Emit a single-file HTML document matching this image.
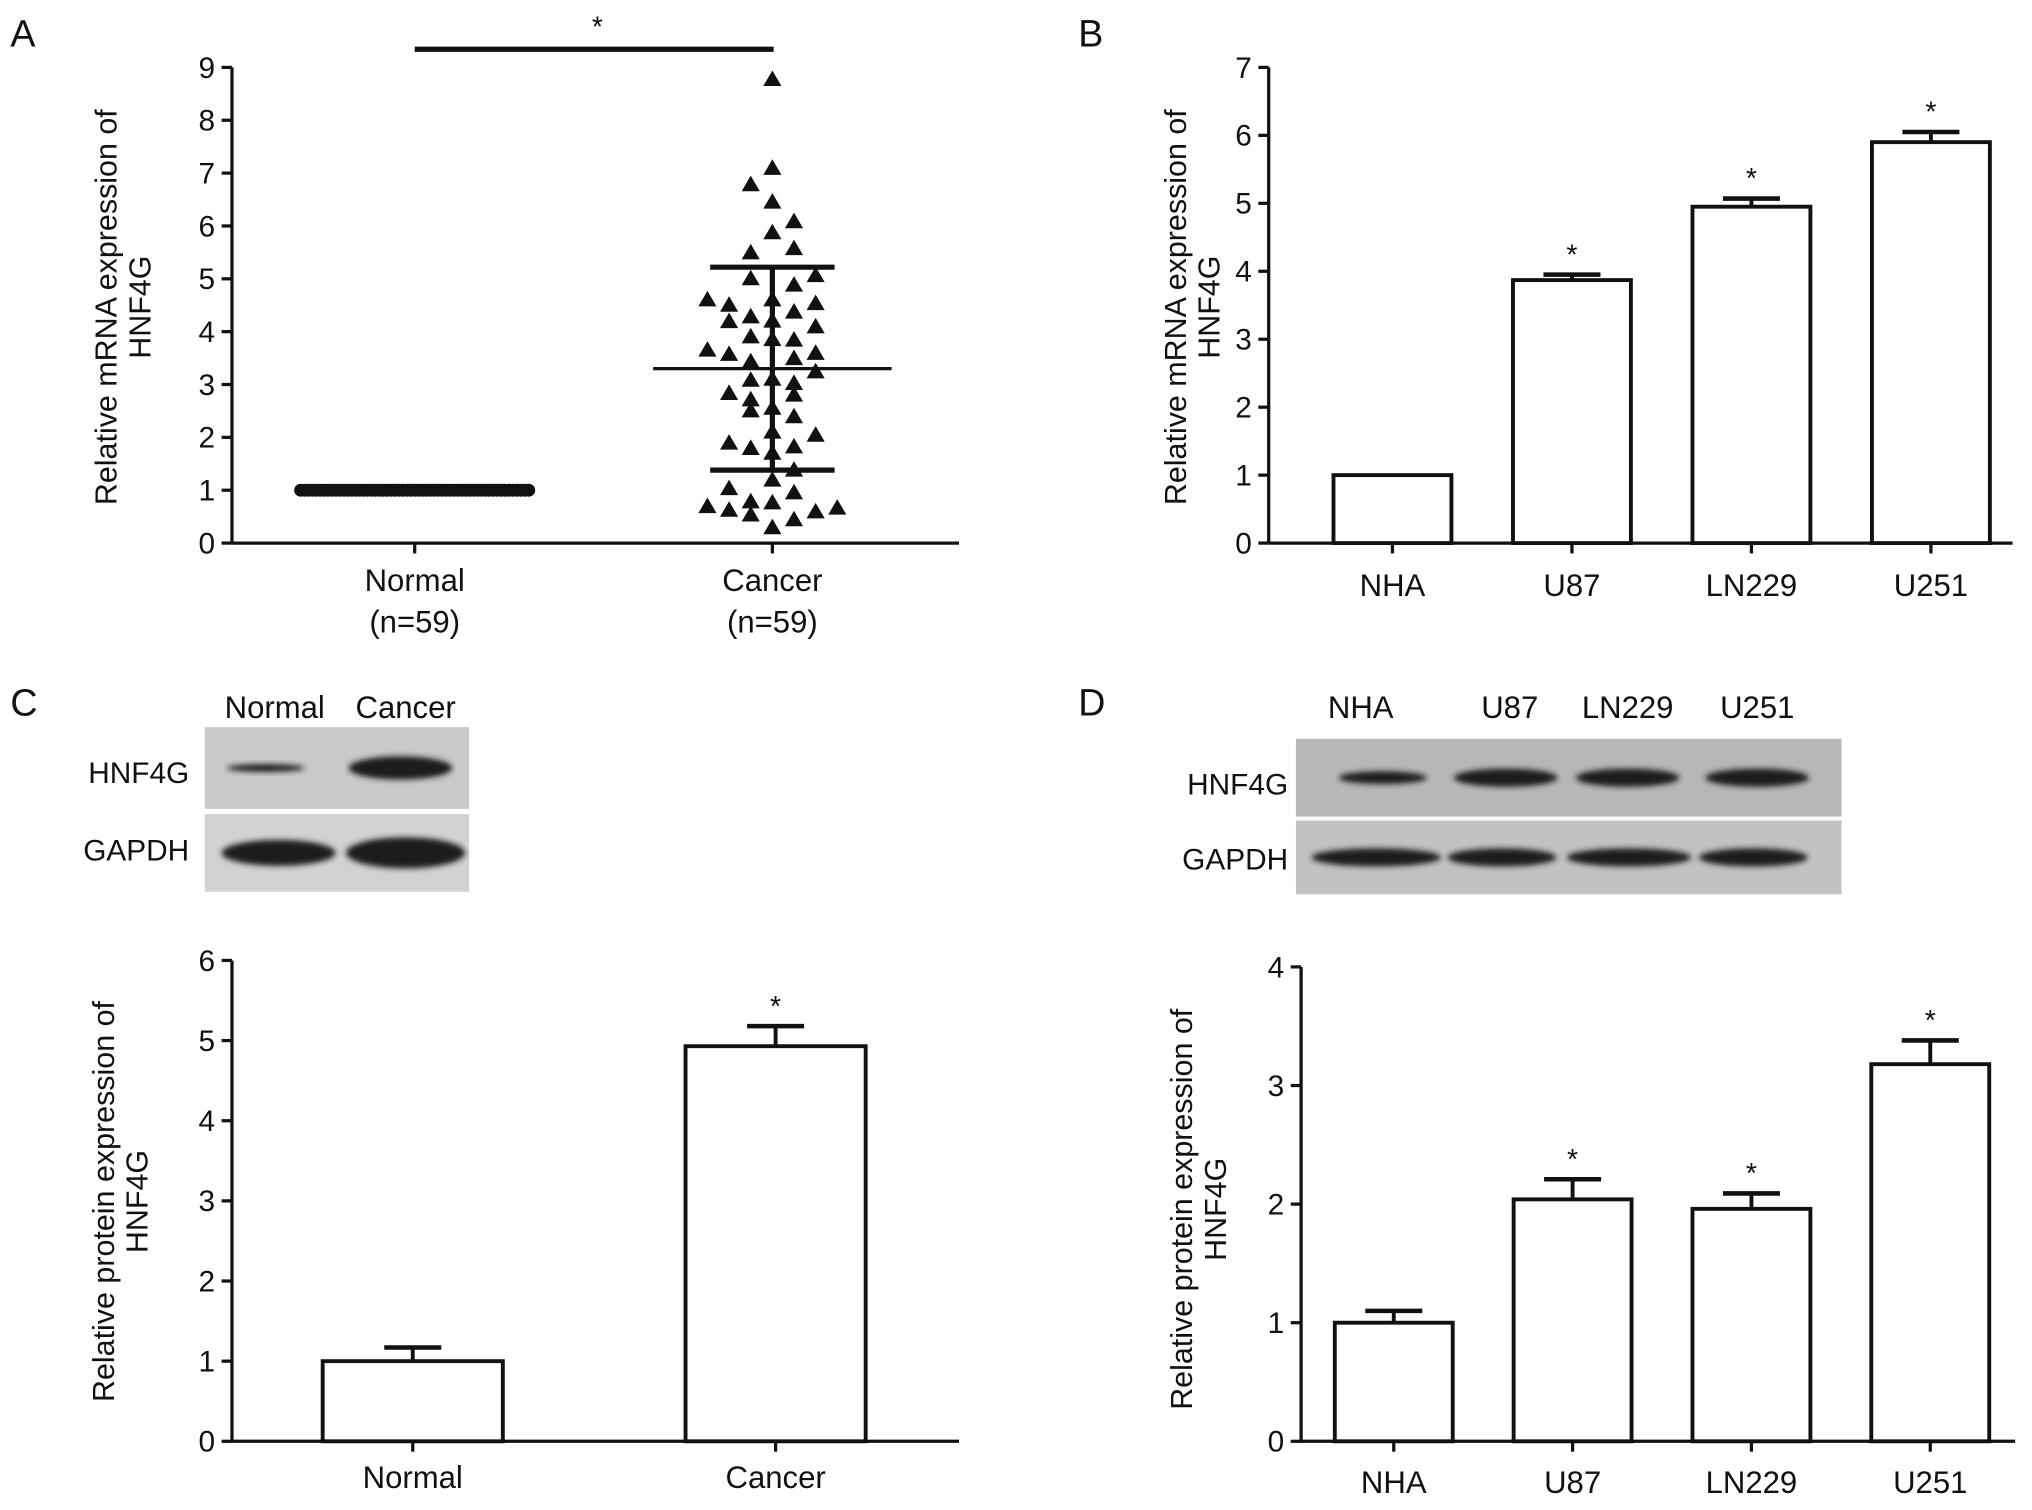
<!DOCTYPE html>
<html><head><meta charset="utf-8"><style>
html,body{margin:0;padding:0;background:#fff;}
svg{display:block;font-family:"Liberation Sans",sans-serif;}
</style></head><body>
<svg id="fig" width="2032" height="1510" viewBox="0 0 1568 1165" preserveAspectRatio="none" xmlns="http://www.w3.org/2000/svg">
<defs>
<filter id="blur" x="-20%" y="-50%" width="140%" height="200%"><feGaussianBlur stdDeviation="2.2"/></filter>
</defs>
<g id="root"></g>
</svg>
<script>
// Panel A data
const aCategories = ["Normal\n(n=59)", "Cancer\n(n=59)"];
const aTicks = [0,1,2,3,4,5,6,7,8,9];
const aNormalValue = 1.0;
const aNormalCount = 59;
const aCancerValues = [8.77,7.09,6.78,6.45,6.08,5.87,5.49,5.57,5.0,5.06,4.88,4.6,4.5,4.53,4.19,4.28,4.37,4.09,3.9,3.84,3.65,3.57,3.43,3.49,3.59,3.24,3.08,3.02,2.83,2.8,2.71,2.5,2.39,2.04,1.89,1.79,1.82,1.38,1.19,1.03,0.95,0.69,0.62,0.78,0.53,0.76,0.59,0.66,0.44,0.29,4.6,4.2,3.85,3.1,2.55,2.1,1.7];
const aCancerCols = [0,0,-1,0,1,0,-1,1,-1,2,1,-3,-2,2,-2,-1,1,2,-1,1,-3,-2,-1,1,2,2,-1,1,-2,1,-1,-1,1,2,-2,-1,1,1,0,-2,1,-3,-2,-1,-1,0,2,3,1,0,0,0,0,0,0,0,0];
const aCancerMean = 3.3, aCancerSDHigh = 5.22, aCancerSDLow = 1.38;
// Panel B data
const bCategories = ["NHA","U87","LN229","U251"];
const bValues = [1.0,3.87,4.95,5.9];
const bErrors = [0,0.08,0.12,0.15];
const bStars = [false,true,true,true];
const bTicks = [0,1,2,3,4,5,6,7];
// Panel C data
const cCategories = ["Normal","Cancer"];
const cValues = [1.0,4.93];
const cErrors = [0.17,0.25];
const cStars = [false,true];
const cTicks = [0,1,2,3,4,5,6];
// Panel D data
const dCategories = ["NHA","U87","LN229","U251"];
const dValues = [1.0,2.04,1.96,3.18];
const dErrors = [0.1,0.17,0.13,0.2];
const dStars = [false,true,true,true];
const dTicks = [0,1,2,3,4];

const NS="http://www.w3.org/2000/svg";
const root=document.getElementById('root');
function mk(tag,attrs,parent){const e=document.createElementNS(NS,tag);for(const k in attrs)e.setAttribute(k,attrs[k]);(parent||root).appendChild(e);return e;}
function txt(x,y,s,size,anchor,parent){const t=mk('text',{x:x,y:y,'font-size':size,'text-anchor':anchor||'middle',fill:'#111'},parent);t.textContent=s;return t;}

function yAxis(g,x0,yBottom,yTop,ticks,name){
  const n=ticks[ticks.length-1];
  const f=v=>yBottom-(v/n)*(yBottom-yTop);
  const ax=mk('line',{x1:x0,y1:yBottom,x2:x0,y2:yTop,stroke:'#111','stroke-width':2.5},g);
  
  
  ticks.forEach(v=>{
    mk('line',{x1:x0-8,y1:f(v),x2:x0,y2:f(v),stroke:'#111','stroke-width':2.5},g);
    const t=txt(x0-13,f(v)+8,String(v),23,'end',g);
    
    
  });
  return f;
}
function yTitle(g,x,yc,lines,name){
  const t=mk('text',{transform:`translate(${x},${yc}) rotate(-90)`,'font-size':23.5,'text-anchor':'middle',fill:'#111'},g);
  
  
  lines.forEach((l,i)=>{const s=mk('tspan',{x:0,dy:i?26:0},t);s.textContent=l;});
}
function barChart(name,x0,x1,yBottom,yTop,ticks,cats,vals,errs,stars,barLeft,barW,step,labelY){
  const g=mk('g',{});
  
  
  const f=yAxis(g,x0,yBottom,yTop,ticks,name);
  const xa=mk('line',{x1:x0,y1:yBottom,x2:x1,y2:yBottom,stroke:'#111','stroke-width':2.5},g);
  
  
  cats.forEach((c,i)=>{
    const bx=barLeft+i*step, cx=bx+barW/2;
    mk('line',{x1:cx,y1:yBottom,x2:cx,y2:yBottom+8,stroke:'#111','stroke-width':2.5},g);
    const b=mk('rect',{x:bx,y:f(vals[i]),width:barW,height:yBottom-f(vals[i]),fill:'#fff',stroke:'#111','stroke-width':3},g);
    
    
    if(errs[i]>0){
      const ye=f(vals[i]+errs[i]);
      mk('line',{x1:cx,y1:f(vals[i]),x2:cx,y2:ye,stroke:'#111','stroke-width':3},g);
      mk('line',{x1:cx-22,y1:ye,x2:cx+22,y2:ye,stroke:'#111','stroke-width':3.5},g);
    }
    if(stars[i]){
      const s=txt(cx,f(vals[i]+errs[i])-8,'*',22,'middle',g);
      
      
    }
    const l=txt(cx,labelY,c,24,'middle',g);
    
    
  });
  return g;
}
function letter(x,y,s){const t=txt(x,y,s,29,'start');}

// ===== Panel A =====
letter(8,36,'A');
const gA=mk('g',{});


const fA=yAxis(gA,179,419,52,aTicks,'panel-a');
yTitle(gA,90,237,['Relative mRNA expression of','HNF4G'],'panel-a');
const xaA=mk('line',{x1:179,y1:419,x2:740,y2:419,stroke:'#111','stroke-width':2.5},gA);


const aCx=[320,596];
aCategories.forEach((c,i)=>{
  mk('line',{x1:aCx[i],y1:419,x2:aCx[i],y2:427,stroke:'#111','stroke-width':2.5},gA);
  const parts=c.split('\n');
  parts.forEach((p,j)=>{const t=txt(aCx[i],456+j*32,p,24,'middle',gA);
    
    });
});
for(let k=0;k<aNormalCount;k++){
  const x=232+k*(176/(aNormalCount-1));
  const p=mk('circle',{cx:x,cy:fA(aNormalValue),r:5,fill:'#111'},gA);
  
  
}
mk('line',{x1:232,y1:fA(aNormalValue),x2:408,y2:fA(aNormalValue),stroke:'#111','stroke-width':3},gA);
aCancerValues.forEach((v,i)=>{
  const x=aCx[1]+aCancerCols[i]*16.7, y=fA(v);
  const p=mk('polygon',{points:`${x},${y-7} ${x-7},${y+5} ${x+7},${y+5}`,fill:'#111'},gA);
  
  
});
mk('line',{x1:aCx[1],y1:fA(aCancerSDHigh),x2:aCx[1],y2:fA(aCancerSDLow),stroke:'#111','stroke-width':4},gA);
mk('line',{x1:aCx[1]-48,y1:fA(aCancerSDHigh),x2:aCx[1]+48,y2:fA(aCancerSDHigh),stroke:'#111','stroke-width':4},gA);
mk('line',{x1:aCx[1]-48,y1:fA(aCancerSDLow),x2:aCx[1]+48,y2:fA(aCancerSDLow),stroke:'#111','stroke-width':4},gA);
mk('line',{x1:aCx[1]-92,y1:fA(aCancerMean),x2:aCx[1]+92,y2:fA(aCancerMean),stroke:'#111','stroke-width':2.5},gA);
const sb=mk('line',{x1:320,y1:38,x2:597,y2:38,stroke:'#111','stroke-width':4},gA);


txt(461,28,'*',22,'middle',gA);

// ===== Panel B =====
letter(832,36,'B');
barChart('panel-b',979,1553,419,52,bTicks,bCategories,bValues,bErrors,bStars,1029,91,138.5,460);
yTitle(root,915,237,['Relative mRNA expression of','HNF4G'],'panel-b');

// ===== Blots =====
function blot(name,x,y,w,h,bands,bg){
  const g=mk('g',{});
  
  
  mk('rect',{x:x,y:y,width:w,height:h,fill:bg},g);
  bands.forEach(b=>mk('ellipse',{cx:b[0],cy:y+h/2,rx:b[1],ry:b[2],fill:'#1a1a1a',filter:'url(#blur)'},g));
}
letter(8,552,'C');
txt(212,554,'Normal',24,'middle');
txt(313,554,'Cancer',24,'middle');
txt(146,604,'HNF4G',23,'end');
txt(146,664,'GAPDH',23,'end');
blot('blot-c-hnf4g',158,561,204,63,[[205,30,3],[309,40,9]],'#c9c9c9');
blot('blot-c-gapdh',158,628,204,60,[[215,44,10],[313,46,12]],'#d2d2d2');
barChart('panel-c',179,740,1112,741,cTicks,cCategories,cValues,cErrors,cStars,249,139,280,1148);
yTitle(root,88,927,['Relative protein expression of','HNF4G'],'panel-c');

letter(832,552,'D');
[['NHA',1050],['U87',1165],['LN229',1256],['U251',1356]].forEach(l=>{const t=txt(l[1],554,l[0],24,'middle');});
txt(994,613,'HNF4G',23,'end');
txt(994,671,'GAPDH',23,'end');
blot('blot-d-hnf4g',1000,570,421,60,[[1067,34,5],[1162,40,7],[1256,40,7],[1356,40,7]],'#b7b7b7');
blot('blot-d-gapdh',1000,633,421,57,[[1062,50,7],[1159,42,7],[1257,48,7],[1353,42,7]],'#c2c2c2');
barChart('panel-d',1004,1555,1112,746,dTicks,dCategories,dValues,dErrors,dStars,1030,91,138,1152);
yTitle(root,920,933,['Relative protein expression of','HNF4G'],'panel-d');
</script>
</body></html>
